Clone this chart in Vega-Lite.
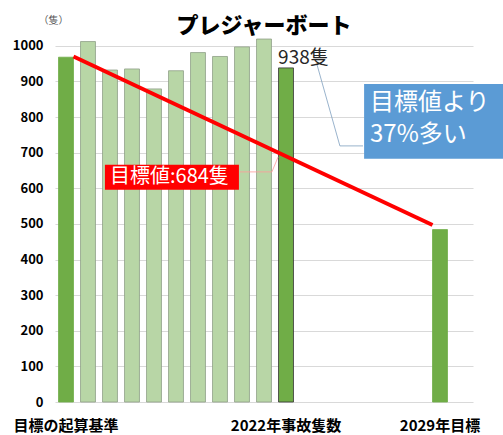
{
  "$schema": "https://vega.github.io/schema/vega-lite/v6.json",
  "width": 418,
  "height": 374,
  "autosize": "none",
  "padding": {"left": 55, "top": 28, "right": 30, "bottom": 33},
  "background": "white",
  "config": {
    "font": "Noto Sans CJK JP",
    "view": {"stroke": null}
  },
  "title": {
    "text": "プレジャーボート",
    "fontSize": 22,
    "fontWeight": 900,
    "color": "#000000",
    "anchor": "middle",
    "frame": "group",
    "offset": -6,
    "dy": 17
  },
  "datasets": {
    "bars": [
      {"slot": 0, "v": 968, "kind": "base"},
      {"slot": 1, "v": 1012, "kind": "past"},
      {"slot": 2, "v": 932, "kind": "past"},
      {"slot": 3, "v": 935, "kind": "past"},
      {"slot": 4, "v": 879, "kind": "past"},
      {"slot": 5, "v": 930, "kind": "past"},
      {"slot": 6, "v": 981, "kind": "past"},
      {"slot": 7, "v": 970, "kind": "past"},
      {"slot": 8, "v": 997, "kind": "past"},
      {"slot": 9, "v": 1019, "kind": "past"},
      {"slot": 10, "v": 938, "kind": "current"},
      {"slot": 17, "v": 484, "kind": "target"}
    ],
    "trend": [
      {"pos": 0.34, "v": 970},
      {"pos": 16.66, "v": 497}
    ],
    "blueLeader": [
      {"pos": 11.41, "v": 947, "o": 0},
      {"pos": 12.45, "v": 719, "o": 1},
      {"pos": 13.5, "v": 719, "o": 2}
    ],
    "pinkLeader": [
      {"pos": 7.91, "v": 646, "o": 0},
      {"pos": 9.36, "v": 646, "o": 1},
      {"pos": 9.64, "v": 688, "o": 2}
    ],
    "blueBox": [{"pos": 13.55, "pos2": 19.9, "v": 893, "v2": 683}],
    "redBox": [{"pos": 1.77, "pos2": 7.86, "v": 666, "v2": 596}],
    "label938": [{"pos": 9.64, "v": 949, "label": "938隻"}],
    "blueText": [
      {"pos": 13.82, "v": 840, "label": "目標値より"},
      {"pos": 13.82, "v": 751, "label": "37%多い"}
    ],
    "redText": [{"pos": 2.0, "v": 631, "label": "目標値:684隻"}]
  },
  "resolve": {"scale": {"x": "independent"}, "axis": {"x": "independent"}},
  "layer": [
    {
      "data": {"name": "bars"},
      "mark": {"type": "bar", "strokeWidth": 0.8},
      "encoding": {
        "x": {
          "field": "slot",
          "type": "ordinal",
          "scale": {
            "domain": [0, 1, 2, 3, 4, 5, 6, 7, 8, 9, 10, 11, 12, 13, 14, 15, 16, 17, 18],
            "paddingInner": 0.32,
            "paddingOuter": 0.16
          },
          "axis": {
            "title": null,
            "labelExpr": "datum.value == 0 ? '目標の起算基準' : datum.value == 10 ? '2022年事故隻数' : datum.value == 17 ? '2029年目標' : ''",
            "labelAngle": 0,
            "labelFontSize": 15,
            "labelFontWeight": "bold",
            "labelColor": "#000000",
            "labelPadding": 16,
            "labelOverlap": false,
            "ticks": false,
            "domain": false,
            "grid": false
          }
        },
        "y": {
          "field": "v",
          "type": "quantitative",
          "scale": {"domain": [0, 1050], "nice": false},
          "axis": {
            "title": "（隻）",
            "titleAngle": 0,
            "titleX": -2,
            "titleY": -8,
            "titleAlign": "center",
            "titleBaseline": "middle",
            "titleFontSize": 10,
            "titleFontWeight": "normal",
            "titleColor": "#595959",
            "values": [0, 100, 200, 300, 400, 500, 600, 700, 800, 900, 1000],
            "tickCount": 11,
            "format": "d",
            "labelOverlap": false,
            "labelFontSize": 13,
            "labelFontWeight": "bold",
            "labelColor": "#000000",
            "labelPadding": 12,
            "ticks": false,
            "domain": false,
            "grid": true,
            "gridColor": "#d9d9d9",
            "gridWidth": 1
          }
        },
        "color": {
          "field": "kind",
          "type": "nominal",
          "scale": {"domain": ["base", "past", "current", "target"], "range": ["#70ad47", "#b8d6a6", "#70ad47", "#70ad47"]},
          "legend": null
        },
        "stroke": {
          "field": "kind",
          "type": "nominal",
          "scale": {"domain": ["base", "past", "current", "target"], "range": ["#70ad47", "#8f9f88", "#333333", "#70ad47"]},
          "legend": null
        }
      }
    },
    {
      "data": {"name": "pinkLeader"},
      "mark": {"type": "line", "color": "#ff9b9b", "strokeWidth": 0.8},
      "encoding": {
        "x": {"field": "pos", "type": "quantitative", "scale": {"domain": [-0.5, 18.5], "nice": false, "zero": false}, "axis": null},
        "y": {"field": "v", "type": "quantitative", "scale": {"domain": [0, 1050], "nice": false}},
        "order": {"field": "o"}
      }
    },
    {
      "data": {"name": "trend"},
      "mark": {"type": "line", "color": "#ff0000", "strokeWidth": 4},
      "encoding": {
        "x": {"field": "pos", "type": "quantitative", "scale": {"domain": [-0.5, 18.5], "nice": false, "zero": false}, "axis": null},
        "y": {"field": "v", "type": "quantitative", "scale": {"domain": [0, 1050], "nice": false}}
      }
    },
    {
      "data": {"name": "blueLeader"},
      "mark": {"type": "line", "color": "#7f9fbf", "strokeWidth": 0.8},
      "encoding": {
        "x": {"field": "pos", "type": "quantitative", "scale": {"domain": [-0.5, 18.5], "nice": false, "zero": false}, "axis": null},
        "y": {"field": "v", "type": "quantitative", "scale": {"domain": [0, 1050], "nice": false}},
        "order": {"field": "o"}
      }
    },
    {
      "data": {"name": "blueBox"},
      "mark": {"type": "rect", "color": "#5b9bd5"},
      "encoding": {
        "x": {"field": "pos", "type": "quantitative", "scale": {"domain": [-0.5, 18.5], "nice": false, "zero": false}, "axis": null},
        "x2": {"field": "pos2"},
        "y": {"field": "v", "type": "quantitative", "scale": {"domain": [0, 1050], "nice": false}},
        "y2": {"field": "v2"}
      }
    },
    {
      "data": {"name": "redBox"},
      "mark": {"type": "rect", "color": "#ff0000"},
      "encoding": {
        "x": {"field": "pos", "type": "quantitative", "scale": {"domain": [-0.5, 18.5], "nice": false, "zero": false}, "axis": null},
        "x2": {"field": "pos2"},
        "y": {"field": "v", "type": "quantitative", "scale": {"domain": [0, 1050], "nice": false}},
        "y2": {"field": "v2"}
      }
    },
    {
      "data": {"name": "label938"},
      "mark": {"type": "text", "align": "left", "baseline": "alphabetic", "fontSize": 19, "color": "#262626"},
      "encoding": {
        "x": {"field": "pos", "type": "quantitative", "scale": {"domain": [-0.5, 18.5], "nice": false, "zero": false}, "axis": null},
        "y": {"field": "v", "type": "quantitative", "scale": {"domain": [0, 1050], "nice": false}},
        "text": {"field": "label"}
      }
    },
    {
      "data": {"name": "blueText"},
      "mark": {"type": "text", "align": "left", "baseline": "middle", "fontSize": 24, "color": "#ffffff"},
      "encoding": {
        "x": {"field": "pos", "type": "quantitative", "scale": {"domain": [-0.5, 18.5], "nice": false, "zero": false}, "axis": null},
        "y": {"field": "v", "type": "quantitative", "scale": {"domain": [0, 1050], "nice": false}},
        "text": {"field": "label"}
      }
    },
    {
      "data": {"name": "redText"},
      "mark": {"type": "text", "align": "left", "baseline": "middle", "fontSize": 20, "color": "#ffffff"},
      "encoding": {
        "x": {"field": "pos", "type": "quantitative", "scale": {"domain": [-0.5, 18.5], "nice": false, "zero": false}, "axis": null},
        "y": {"field": "v", "type": "quantitative", "scale": {"domain": [0, 1050], "nice": false}},
        "text": {"field": "label"}
      }
    }
  ]
}
